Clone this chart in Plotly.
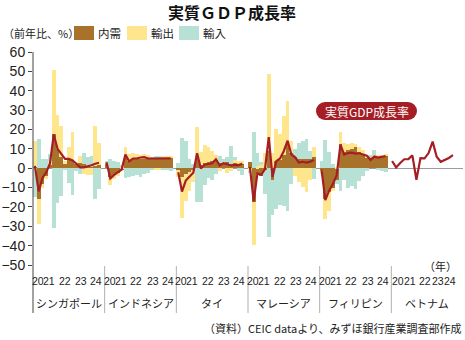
import plotly.graph_objects as go

# ---- data -------------------------------------------------------------
countries = ["シンガポール", "インドネシア", "タイ", "マレーシア", "フィリピン", "ベトナム"]
year_labels = ["20", "21", "22", "23", "24"]
series_names = ["内需", "輸出", "輸入"]

# contributions to real GDP growth (y/y, %pt), 2020Q1-2024Q2
sg_domestic = [0.5, -16, -8, -4.5, 1.5, 17.4, 10, 6, 2, 4.3, 4, 2.5, 2.5, 2, 1, 0.5, 1, 1.5]
sg_exports = [13.5, -13, -2.3, -1, 2, 33.4, 17.7, 16, 1.5, 6.5, 14.5, 0.5, 4, -3, -3.5, -3.5, 21, 11.5]
sg_imports = [-15, 15, 5, 4.5, 4, -31, -18, -14.5, -0.5, -7.4, -14, -1.5, -3, 6, 5, 6, -16, -11]
sg_gdp = [1.2, -12, -5, -2.2, 2.5, 17.4, 10, 7.5, 4.8, 4.8, 4.0, 2.3, 0.4, 0.4, 0.8, 1.5, 2.3, 2.8]

id_domestic = [2.5, -4.5, -3.5, -3, -1, 5.5, 3.5, 4.5, 4.5, 4.5, 4.5, 4.8, 5, 5.5, 5.5, 5.5, 5.5, 5.5]
id_exports = [0.3, -4, -2, -1, 1, 5.5, 4, 3.5, 3, 2.5, 3, 2, 0.5, -0.5, -0.5, 0.3, 0.5, 1]
id_imports = [0.5, 4.5, 3.5, 3, 0.5, -5, -4.5, -4, -3.5, -4.5, -3, -2.5, -1, 0.5, 0.3, -0.5, -1, -1.5]
id_gdp = [3.0, -5.3, -3.5, -2.2, -0.7, 7.1, 3.5, 5.0, 5.0, 5.5, 5.7, 5.0, 5.0, 5.2, 4.9, 5.0, 5.1, 5.1]

th_domestic = [-1, -4.5, -3, -2, -1, 4.5, 1.5, 2.5, 3, 3.5, 4, 2.5, 2.5, 3, 2, 2.5, 2.5, 2]
th_exports = [-3.5, -21, -14, -10, -6, 17, 7, 9.5, 8, 5.5, 3, -1.5, 0.5, -2.5, -1.5, 1.5, 1, 1.5]
th_imports = [2.5, 15.5, 14, 5, 2, -17.5, -17.5, -8.5, -5, -6, -3, 4, 1.5, 3, 9.5, 2, -1.5, -3.5]
th_gdp = [-2.1, -12.1, -6.4, -4.2, -2.4, 7.7, -0.2, 1.8, 2.3, 2.5, 4.6, 1.4, 2.6, 1.8, 1.4, 1.7, 1.6, 2.3]

my_domestic = [3, -17.5, -3, -4, -1, 9, -6, 3.5, 4, 7, 13.5, 8, 6, 5, 5, 5, 5, 6]
my_exports = [-1.5, -22, 1, 2, 8, 39.5, 8, 16.5, 13.5, 20, 21, 6, -4, -7, -9.5, -12.5, -6, 5]
my_imports = [-1, 18.5, 7, 1, -12.5, -35.5, -18, -21, -19, -19.5, -22, -8, 4, 8, 9, 10, 4, -5.5]
my_gdp = [0.7, -17.1, -2.7, -3.4, -0.5, 16.1, -4.5, 3.6, 5.0, 8.9, 14.2, 7.1, 5.6, 2.9, 3.3, 2.9, 3.4, 4.2]

ph_domestic = [-1, -16, -12.5, -10, -6, 12.3, 8.6, 9.4, 10, 10.8, 8.6, 7, 5.2, 4.3, 5.5, 6, 6, 6.5]
ph_exports = [-2, -10, -9.5, -2, 0.5, 6.5, 4.3, 3, 3, 1.5, 2.4, 2.4, 1.5, 0.5, 1.5, 1, 0.8, 0.5]
ph_imports = [3.5, 14.6, 8.6, 2, -2, -11.8, -5.9, -10, -9, -10.6, -6.7, -3.8, -1.5, 2, 2.5, -1, -1.5, -2]
ph_gdp = [-0.7, -16.5, -11.6, -8.2, -3.8, 12.1, 7.0, 7.8, 8.0, 7.5, 7.7, 7.1, 6.4, 4.3, 6.0, 5.5, 5.8, 6.3]

# Vietnam: growth rate only, 2020Q1-2023Q4
vn_gdp = [3.7, 0.4, 2.7, 4.6, 4.7, 6.6, -6.0, 5.2, 5.1, 7.8, 13.7, 5.9, 3.3, 4.1, 5.3, 6.7]

domestic = [sg_domestic, id_domestic, th_domestic, my_domestic, ph_domestic]
exports = [sg_exports, id_exports, th_exports, my_exports, ph_exports]
imports = [sg_imports, id_imports, th_imports, my_imports, ph_imports]
gdp = [sg_gdp, id_gdp, th_gdp, my_gdp, ph_gdp]

# ---- geometry / style ---------------------------------------------------
W, H = 465, 340
L, R, T, B = 33, 2, 52, 75
SLOTS = 19            # quarter slots per country panel
VN_STEP = 1.075       # Vietnam panel uses a slightly wider quarter step
VN_START = -0.3
YEAR_POS = [0.8, 3.7, 7.9, 12.2, 16.2]
VN_YEAR_POS = [1.2, 4.5, 8.5, 11.8, 15.1]

BROWN = "#A8722A"
YELLOW = "#FFE58C"
TEAL = "#B8E1D6"
RED = "#A61E25"
JP = "Noto Sans CJK JP"
NUM = "Liberation Sans Narrow, Arial Narrow, Liberation Sans, Noto Sans CJK JP"


def px_x(p):
    return (p - L) / (W - L - R)


def px_y(p):
    return (H - B - p) / (H - T - B)


fig = go.Figure()

# stacked contribution bars
for name, color, values in zip(series_names, [BROWN, YELLOW, TEAL], [domestic, exports, imports]):
    xs, ys = [], []
    for c, vals in enumerate(values):
        xs += [c * SLOTS + i for i in range(len(vals))]
        ys += vals
    fig.add_trace(go.Bar(x=xs, y=ys, name=name, width=1.0,
                         marker=dict(color=color, line=dict(width=0)),
                         showlegend=False))

# real GDP growth lines
lx, ly = [], []
for c, vals in enumerate(gdp):
    lx += [c * SLOTS + i for i in range(len(vals))] + [None]
    ly += vals + [None]
lx += [5 * SLOTS + VN_START + i * VN_STEP for i in range(len(vn_gdp))]
ly += vn_gdp
fig.add_trace(go.Scatter(x=lx, y=ly, mode="lines", name="実質GDP成長率",
                         line=dict(color=RED, width=2.2), connectgaps=False,
                         showlegend=False))

shapes = []
annotations = []

# y axis line running down through the category labels
shapes.append(dict(type="line", xref="paper", yref="paper",
                   x0=0, x1=0, y0=1, y1=px_y(313),
                   line=dict(color="#444", width=1)))

# panel separators below the plot
for c in range(1, 6):
    xb = c * SLOTS - 0.5
    shapes.append(dict(type="line", xref="x", yref="paper",
                       x0=xb, x1=xb, y0=px_y(266), y1=px_y(313),
                       line=dict(color="#b0b0b0", width=1)))

# year tick labels and country names
for c, country in enumerate(countries):
    pos = VN_YEAR_POS if c == 5 else YEAR_POS
    for lab, off in zip(year_labels, pos):
        annotations.append(dict(x=c * SLOTS + off, y=px_y(281), xref="x", yref="paper",
                                text=lab, showarrow=False, xanchor="center", yanchor="middle",
                                font=dict(family=NUM, size=10.5, color="#222")))
    annotations.append(dict(x=c * SLOTS + 9, y=px_y(303), xref="x", yref="paper",
                            text=country, showarrow=False, xanchor="center", yanchor="middle",
                            font=dict(family=JP, size=11, color="#222")))

annotations.append(dict(x=px_x(459), y=px_y(266), xref="paper", yref="paper",
                        text="（年）", showarrow=False, xanchor="right", yanchor="middle",
                        font=dict(family=JP, size=11, color="#222")))

annotations.append(dict(x=px_x(463), y=px_y(328), xref="paper", yref="paper",
                        text="（資料）CEIC dataより、みずほ銀行産業調査部作成",
                        showarrow=False, xanchor="right", yanchor="middle",
                        font=dict(family=JP, size=11, color="#222")))

# title
annotations.append(dict(x=px_x(232), y=px_y(12), xref="paper", yref="paper",
                        text="<b>実質ＧＤＰ成長率</b>", showarrow=False,
                        xanchor="center", yanchor="middle",
                        font=dict(family=JP, size=16, color="#111")))

# unit + legend
annotations.append(dict(x=px_x(1), y=px_y(33), xref="paper", yref="paper",
                        text="（前年比、%）", showarrow=False, xanchor="left", yanchor="middle",
                        font=dict(family=JP, size=11, color="#222")))
for (x0, name, color) in [(74, series_names[0], BROWN), (127, series_names[1], YELLOW),
                          (179, series_names[2], TEAL)]:
    shapes.append(dict(type="rect", xref="paper", yref="paper",
                       x0=px_x(x0), x1=px_x(x0 + 20), y0=px_y(40), y1=px_y(26),
                       fillcolor=color, line=dict(width=0)))
    annotations.append(dict(x=px_x(x0 + 22), y=px_y(33), xref="paper", yref="paper",
                            text=name, showarrow=False, xanchor="left", yanchor="middle",
                            font=dict(family=JP, size=11.5, color="#222")))

# growth-rate badge
bx0, bx1, by0, by1 = 316, 417, 102, 120
rad = (by1 - by0) / 2
shapes.append(dict(type="rect", xref="paper", yref="paper",
                   x0=px_x(bx0 + rad), x1=px_x(bx1 - rad), y0=px_y(by1), y1=px_y(by0),
                   fillcolor=RED, line=dict(width=0)))
for cx in (bx0 + rad, bx1 - rad):
    shapes.append(dict(type="circle", xref="paper", yref="paper",
                       x0=px_x(cx - rad), x1=px_x(cx + rad), y0=px_y(by1), y1=px_y(by0),
                       fillcolor=RED, line=dict(width=0)))
annotations.append(dict(x=px_x((bx0 + bx1) / 2), y=px_y((by0 + by1) / 2), xref="paper", yref="paper",
                        text="実質GDP成長率", showarrow=False, xanchor="center", yanchor="middle",
                        font=dict(family=JP, size=12, color="white")))

fig.update_layout(
    width=W, height=H,
    margin=dict(l=L, r=R, t=T, b=B, pad=0),
    paper_bgcolor="white", plot_bgcolor="white",
    barmode="relative", bargap=0,
    shapes=shapes, annotations=annotations,
    xaxis=dict(range=[-0.5, 6 * SLOTS - 0.5], visible=False, fixedrange=True),
    yaxis=dict(range=[-50, 60], dtick=10, tick0=0, showgrid=False,
               showline=False, ticks="outside", ticklen=4, tickcolor="#444",
               zeroline=True, zerolinecolor="#9c9c9c", zerolinewidth=1.2,
               tickfont=dict(family=NUM, size=14, color="#222"), fixedrange=True),
)

fig.write_html("out.html")
